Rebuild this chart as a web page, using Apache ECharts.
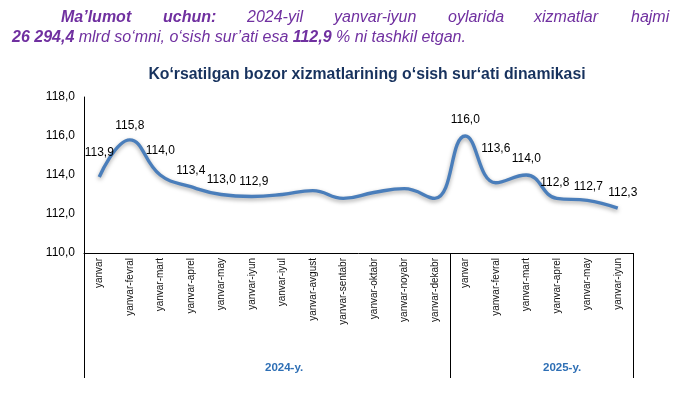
<!DOCTYPE html>
<html>
<head>
<meta charset="utf-8">
<script src="https://cdn.jsdelivr.net/npm/echarts@6/dist/echarts.min.js"></script>
<style>
html,body{margin:0;padding:0;background:#fff;}
#chart{width:674px;height:395px;}
</style>
</head>
<body>
<div id="chart"></div>
<script>
// ---- data ----
const categories = [
  'yanvar','yanvar-fevral','yanvar-mart','yanvar-aprel','yanvar-may','yanvar-iyun',
  'yanvar-iyul','yanvar-avgust','yanvar-sentabr','yanvar-oktabr','yanvar-noyabr','yanvar-dekabr',
  'yanvar','yanvar-fevral','yanvar-mart','yanvar-aprel','yanvar-may','yanvar-iyun'
];
const growthValues = [
  113.9, 115.8, 114.0, 113.4, 113.0, 112.9,
  113.0, 113.2, 112.8, 113.1, 113.3, 112.8,
  116.0, 113.6, 114.0, 112.8, 112.7, 112.3
];
const yearGroups = ['2024-y.', '2025-y.'];
const yTicks = [110, 112, 114, 116, 118];

// ---- styling (not data) ----
const labelShown = [1,1,1,1,1,1, 0,0,0,0,0,0, 1,1,1,1,1,1];
const labelLift  = [18,8,18,10,9,9, 0,0,0,0,0,0, 10,28,10,10,8,9];
const labelShiftX = [0,0,0,0,0,2, 0,0,0,0,0,0, 0,0,0,-2,1,5];

const fmt = v => v.toFixed(1).replace('.', ',');

const seriesData = growthValues.map((v, i) => ({
  value: v,
  label: {
    show: !!labelShown[i],
    distance: labelLift[i],
    offset: [labelShiftX[i], 0]
  }
}));

const chart = echarts.init(document.getElementById('chart'), null, {renderer: 'canvas'});

const purple = '#7030A0';
const headFont = 'Arial, "Liberation Sans", sans-serif';

const line1Words = [
  {t: 'Ma’lumot', x: 61, b: true},
  {t: 'uchun:', x: 163, b: true},
  {t: '2024-yil', x: 247},
  {t: 'yanvar-iyun', x: 334},
  {t: 'oylarida', x: 448},
  {t: 'xizmatlar', x: 534},
  {t: 'hajmi', x: 631}
];

const graphics = line1Words.map(w => ({
  type: 'text',
  left: w.x,
  top: 10,
  style: {
    text: w.t,
    font: 'italic ' + (w.b ? 'bold ' : '') + '16px ' + headFont,
    fill: purple
  }
}));

graphics.push({
  type: 'text',
  left: 12,
  top: 30,
  style: {
    text: '{b|26 294,4} mlrd so‘mni, o‘sish sur’ati esa {b|112,9} % ni tashkil etgan.',
    font: 'italic 16px ' + headFont,
    fill: purple,
    rich: {
      b: {font: 'italic bold 16px ' + headFont, fill: purple}
    }
  }
});

graphics.push({
  type: 'text',
  left: 265,
  top: 362,
  style: {text: yearGroups[0], font: 'bold 11.5px ' + headFont, fill: '#2E6FB5'}
});
graphics.push({
  type: 'text',
  left: 543,
  top: 362,
  style: {text: yearGroups[1], font: 'bold 11.5px ' + headFont, fill: '#2E6FB5'}
});

const option = {
  backgroundColor: '#ffffff',
  animation: false,
  title: {
    text: 'Ko‘rsatilgan bozor xizmatlarining o‘sish sur‘ati dinamikasi',
    left: 362,
    textAlign: 'center',
    top: 62,
    textStyle: {
      fontFamily: headFont,
      fontSize: 15.8,
      fontWeight: 'bold',
      color: '#17325E'
    }
  },
  grid: {left: 84, right: 41, top: 97, bottom: 142, containLabel: false},
  xAxis: {
    type: 'category',
    data: categories,
    boundaryGap: true,
    axisLine: {show: true, lineStyle: {color: '#000', width: 1}},
    axisTick: {
      show: true,
      interval: function (i) { return i === 0 || i === 12; },
      length: 125,
      lineStyle: {color: '#000', width: 1}
    },
    axisLabel: {
      rotate: 90,
      interval: 0,
      margin: 5,
      fontFamily: headFont,
      fontSize: 10,
      color: '#111'
    }
  },
  yAxis: {
    type: 'value',
    min: yTicks[0],
    max: yTicks[yTicks.length - 1],
    interval: 2,
    axisLine: {show: true, lineStyle: {color: '#000', width: 1}},
    axisTick: {show: false},
    splitLine: {show: false},
    axisLabel: {
      formatter: v => fmt(v),
      margin: 9,
      fontFamily: headFont,
      fontSize: 12,
      color: '#000'
    }
  },
  series: [{
    type: 'line',
    data: seriesData,
    smooth: 0.45,
    symbol: 'circle',
    symbolSize: 0,
    showSymbol: true,
    lineStyle: {
      color: '#4A7EBB',
      width: 3.4,
      shadowColor: 'rgba(0,0,0,0.35)',
      shadowBlur: 4,
      shadowOffsetY: 2
    },
    itemStyle: {color: '#4A7EBB'},
    label: {
      show: true,
      position: 'top',
      formatter: p => fmt(p.value),
      fontFamily: headFont,
      fontSize: 12,
      color: '#000'
    }
  }],
  graphic: graphics
};

chart.setOption(option);
</script>
</body>
</html>
